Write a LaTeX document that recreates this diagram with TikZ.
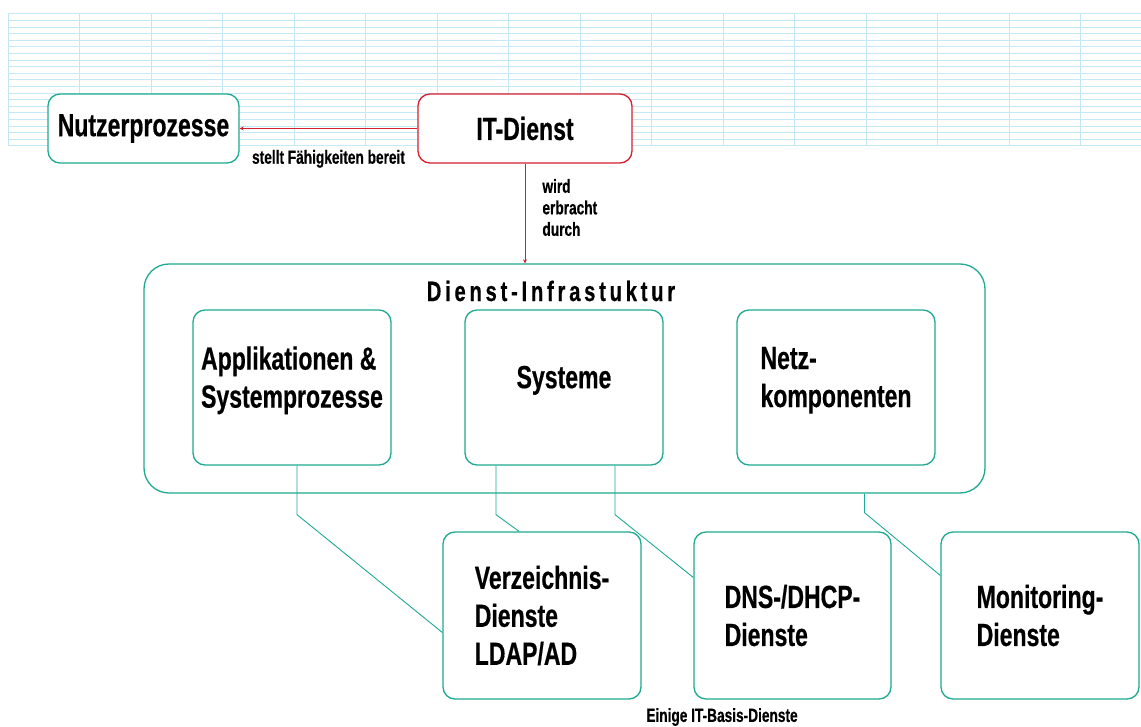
\documentclass[tikz,border=0pt]{standalone}
\usepackage{fontspec}
\setmainfont{Liberation Sans}[FakeStretch=0.72, BoldFeatures={FakeBold=0.5}]
\newfontfamily\spacedfont{Liberation Sans}[FakeStretch=0.72,LetterSpace=13.5, BoldFeatures={FakeBold=0.5}]
\usetikzlibrary{arrows.meta}
\definecolor{boxteal}{RGB}{30,170,145}
\definecolor{boxred}{RGB}{215,30,45}
\definecolor{gridblue}{RGB}{196,232,246}
\begin{document}
\begin{tikzpicture}[x=1pt,y=-1pt]
        \tikzstyle{tealbox}=[draw=boxteal, line width=1.3pt, fill=white, rounded corners=12pt, align=left, font=\bfseries\fontsize{32}{38}\selectfont]
        \tikzstyle{redbox}=[tealbox, draw=boxred]
        \tikzstyle{small}=[inner sep=0pt, align=left, font=\bfseries\fontsize{19}{21.5}\selectfont]
        \tikzstyle{conn}=[draw=boxteal, line width=0.9pt]
        \tikzstyle{redarrow}=[draw=boxred, line width=0.9pt, -{Stealth[length=4pt,width=4pt]}]
        \useasboundingbox (0,0) rectangle (1141,727);
        \foreach \i in {0,...,20}
          \draw[gridblue, line width=1pt] (8,{14+\i*6.6}) -- (1141,{14+\i*6.6});
        \foreach \i in {0,...,15}
          \draw[gridblue, line width=1pt] ({8+\i*71.5},14) -- ({8+\i*71.5},146);
        \node[tealbox, minimum width=191pt, minimum height=69pt] (nutzer) at (143.5,128.5) {Nutzerprozesse};
        \node[redbox, minimum width=214pt, minimum height=69pt] (itdienst) at (525,128.5) {IT-Dienst};
        \node[tealbox, rounded corners=25pt, minimum width=841pt, minimum height=229pt] (infra) at (564.5,378.5) {};
        \node[inner sep=0pt, font=\bfseries\fontsize{28}{32}\spacedfont] (infratitle) at (551,291) {Dienst-Infrastuktur};
        \node[tealbox, minimum width=198pt, minimum height=155pt] (apps) at (292,387.5) {Applikationen \&\\Systemprozesse\\[-17pt]};
        \node[tealbox, minimum width=198pt, minimum height=155pt] (sys) at (564,387.5) {Systeme\\[-17pt]};
        \node[tealbox, minimum width=198pt, minimum height=155pt] (netz) at (836,387.5) {Netz-\\komponenten\\[-17pt]};
        \node[tealbox, minimum width=198pt, minimum height=167pt] (verz) at (542,615.5) {Verzeichnis-\\Dienste\\LDAP/AD};
        \node[tealbox, minimum width=197pt, minimum height=167pt] (dns) at (792.5,615.5) {DNS-/DHCP-\\Dienste};
        \node[tealbox, minimum width=198pt, minimum height=167pt] (moni) at (1040,615.5) {Monitoring-\\Dienste};
        \node[small] (caption) at (722,717) {Einige IT-Basis-Dienste};
        \draw[redarrow] (itdienst.west) -- (nutzer.east) node[small, midway, below=21pt] {stellt Fähigkeiten bereit};
        \draw[redarrow] (itdienst.south) -- (itdienst.south |- infra.north) node[small, pos=0.44, right=17pt] {wird\\erbracht\\durch};
        \draw[conn] ([xshift=5pt]apps.south) -- ++(0,49) -- ([yshift=-17pt]verz.west);
        \draw[conn] ([xshift=-68pt]sys.south) -- ++(0,49) -- ([xshift=-23pt]verz.north);
        \draw[conn] ([xshift=51pt]sys.south) -- ++(0,49) -- ([yshift=38pt]dns.west);
        \draw[conn] ([xshift=300pt]infra.south) -- ++(0,19) -- ([yshift=40pt]moni.west);
      \end{tikzpicture}
\end{document}
